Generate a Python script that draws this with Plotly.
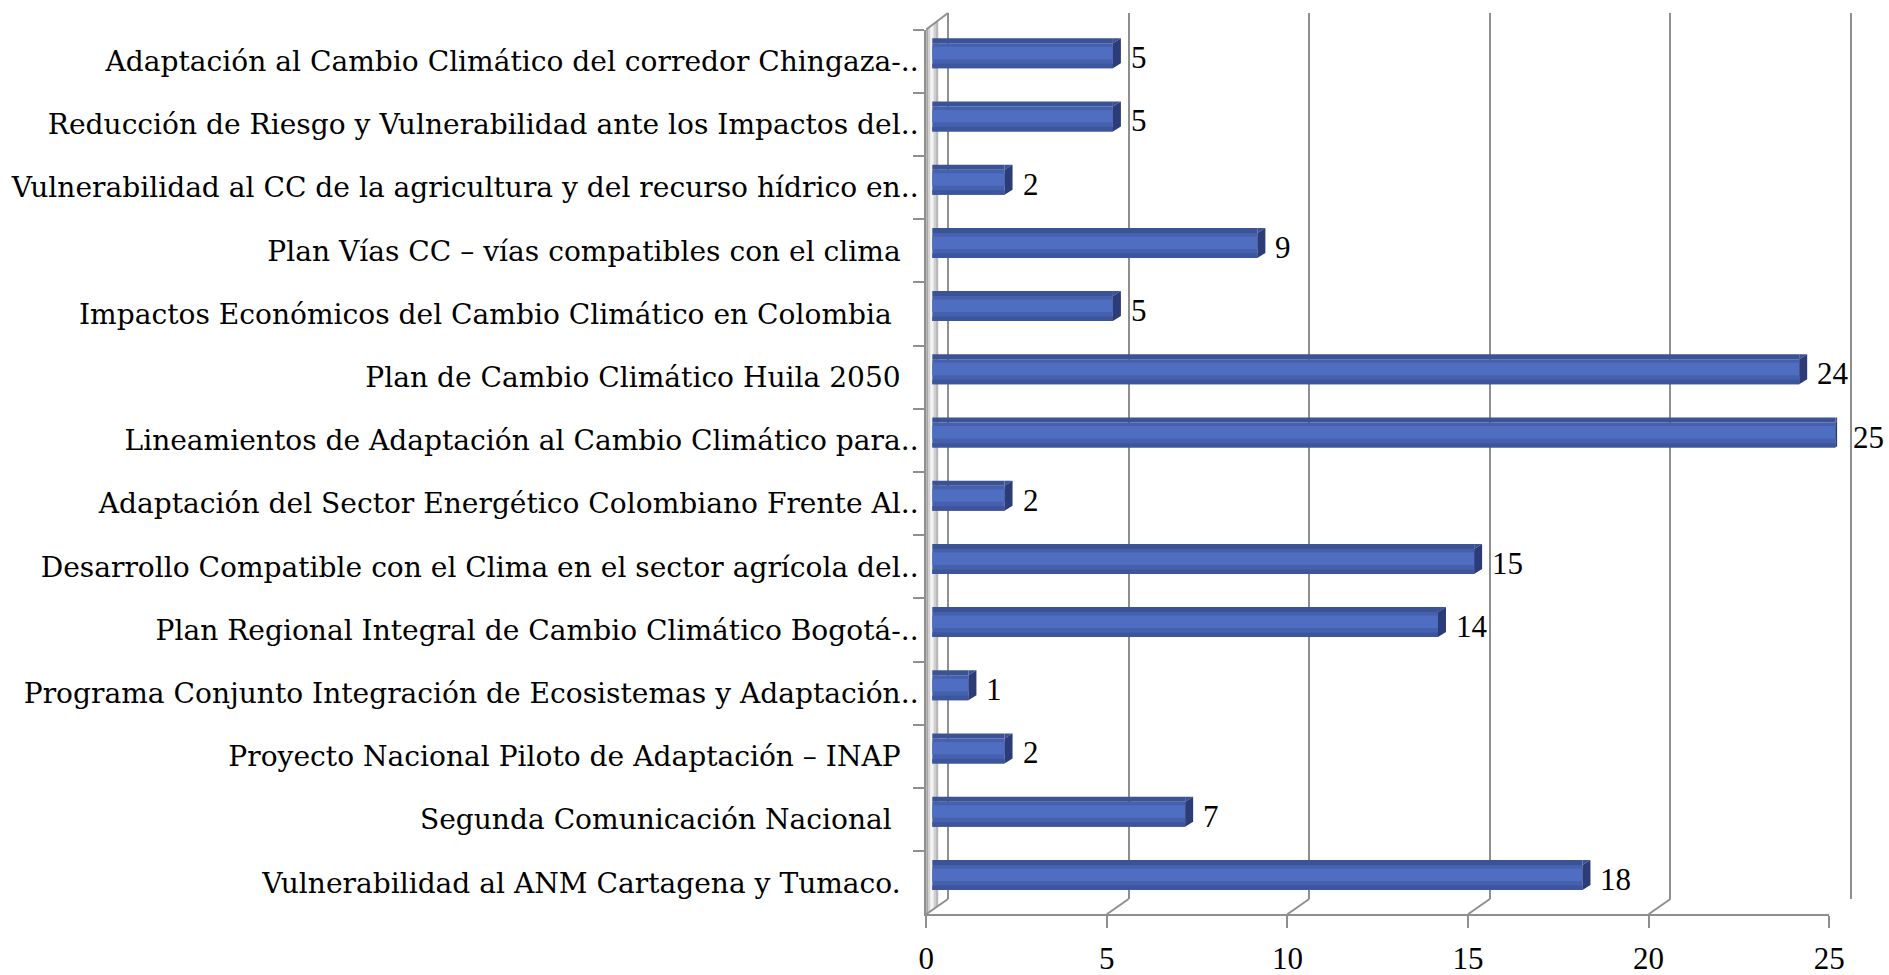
import plotly.graph_objects as go

# ---------------- data ----------------
categories = [
    "Adaptación al Cambio Climático del corredor Chingaza-..",
    "Reducción de Riesgo y Vulnerabilidad ante los Impactos del..",
    "Vulnerabilidad al CC de la agricultura y del recurso hídrico en..",
    "Plan Vías CC – vías compatibles con el clima\u00a0\u00a0",
    "Impactos Económicos del Cambio Climático en Colombia\u00a0\u00a0\u00a0",
    "Plan de Cambio Climático Huila 2050\u00a0\u00a0",
    "Lineamientos de Adaptación al Cambio Climático para..",
    "Adaptación del Sector Energético Colombiano Frente Al..",
    "Desarrollo Compatible con el Clima en el sector agrícola del..",
    "Plan Regional Integral de Cambio Climático Bogotá-..",
    "Programa Conjunto Integración de Ecosistemas y Adaptación..",
    "Proyecto Nacional Piloto de Adaptación – INAP\u00a0\u00a0",
    "Segunda Comunicación Nacional\u00a0\u00a0\u00a0",
    "Vulnerabilidad al ANM Cartagena y Tumaco.\u00a0\u00a0",
]
values = [5, 5, 2, 9, 5, 24, 25, 2, 15, 14, 1, 2, 7, 18]
x_ticks = [0, 5, 10, 15, 20, 25]

# ---------------- layout constants (pixels) ----------------
W, H = 1889, 975
XMAX = 25
EPS = 0.05                     # small range padding so edge grid lines draw
S = 36.12                      # px per unit
FRONT_X0, BACK_X0, BAR_X0 = 926.2, 948.0, 932.3
FRONT_TOP, FRONT_BOT = 29.5, 914.3
BACK_TOP, BACK_BOT = 13.0, 899.0
BAR_TOP, BAR_BOT = 24.2, 909.0
DEPTH_X, DEPTH_Y = 8, 5        # bar depth offsets
HALF = 12.5                    # half height of bar front face

LABEL_FONT = "DejaVu Serif, Palatino Linotype, serif"
NUM_FONT = "Liberation Serif, Palatino Linotype, serif"
GRAY = "#8f8f8f"


def fx(p):
    return p / W


def fy(p):
    return 1 - p / H


def xdom(x0):
    return [fx(x0 - EPS * S), fx(x0 + (XMAX + EPS) * S)]


n = len(categories)
yr = [n - 0.5, -0.5]
xr = [-EPS, XMAX + EPS]
bar_w = 2 * HALF / ((BAR_BOT - BAR_TOP) / n)

fig = go.Figure()

# back plane (grid) subplot
fig.add_trace(go.Scatter(x=[0, XMAX], y=[0, 0], mode="markers",
                         marker=dict(opacity=0), hoverinfo="skip",
                         showlegend=False, xaxis="x", yaxis="y"))
# front axis subplot (category labels + value axis)
fig.add_trace(go.Scatter(x=values, y=categories, mode="markers",
                         marker=dict(opacity=0), hoverinfo="skip",
                         showlegend=False, xaxis="x2", yaxis="y2"))
# bars: front face with a lighter middle band and a darker lower band
fig.add_trace(go.Bar(x=values, y=categories, orientation="h", width=bar_w,
                     marker=dict(color="#4560ad", line=dict(width=0)),
                     hoverinfo="x+y", showlegend=False, xaxis="x3", yaxis="y3"))
fig.add_trace(go.Bar(x=values, y=categories, orientation="h",
                     width=bar_w * 0.5, offset=-bar_w / 2 + bar_w * 0.14,
                     marker=dict(color="#4f6dc1", line=dict(width=0)),
                     hoverinfo="skip", showlegend=False, xaxis="x3", yaxis="y3"))
fig.add_trace(go.Bar(x=values, y=categories, orientation="h",
                     width=bar_w * 0.18, offset=bar_w / 2 - bar_w * 0.18,
                     marker=dict(color="#3d559c", line=dict(width=0)),
                     hoverinfo="skip", showlegend=False, xaxis="x3", yaxis="y3"))

shapes = []
# left wall (shaded strips)
wall_slope = (FRONT_TOP - BACK_TOP) / (BACK_X0 - FRONT_X0)
strips = [(FRONT_X0, 928.5, "#a6a6a6"), (928.5, 930.5, "#d0d0d0"),
          (930.5, 933.5, "#f4f4f4"), (933.5, 936.0, "#cfcfcf"),
          (936.0, 938.5, "#b8b8b8"), (938.5, BACK_X0, "#ffffff")]
for a, b, c in strips:
    ta = FRONT_TOP - (a - FRONT_X0) * wall_slope
    tb = FRONT_TOP - (b - FRONT_X0) * wall_slope
    ba = FRONT_BOT - (a - FRONT_X0) * wall_slope
    bb = FRONT_BOT - (b - FRONT_X0) * wall_slope
    path = (f"M{fx(a)},{fy(ta)} L{fx(b)},{fy(tb)} "
            f"L{fx(b)},{fy(bb)} L{fx(a)},{fy(ba)} Z")
    shapes.append(dict(type="path", xref="paper", yref="paper", path=path,
                       fillcolor=c, line=dict(width=0), layer="below"))
# wall top edge
shapes.append(dict(type="line", xref="paper", yref="paper",
                   x0=fx(FRONT_X0), y0=fy(FRONT_TOP), x1=fx(BACK_X0), y1=fy(BACK_TOP),
                   line=dict(color=GRAY, width=2), layer="below"))
# floor connectors from front ticks to back grid lines
for k in x_ticks:
    shapes.append(dict(type="line", xref="x2", xsizemode="pixel", xanchor=k,
                       x0=0, x1=BACK_X0 - FRONT_X0,
                       yref="paper", ysizemode="pixel", yanchor=fy(FRONT_BOT),
                       y0=0, y1=FRONT_BOT - BACK_BOT,
                       line=dict(color=GRAY, width=2), layer="below"))
# bar top and side faces
for i, v in enumerate(values):
    shapes.append(dict(type="rect", xref="x3", x0=0, x1=v,
                       yref="y3", ysizemode="pixel", yanchor=i,
                       y0=HALF, y1=HALF + DEPTH_Y,
                       fillcolor="#3b5294", line=dict(width=0), layer="above"))
    shapes.append(dict(type="path", xref="x3", xsizemode="pixel", xanchor=v,
                       yref="y3", ysizemode="pixel", yanchor=i,
                       path=f"M0,{HALF} L{DEPTH_X},{HALF + DEPTH_Y} L0,{HALF + DEPTH_Y} Z",
                       fillcolor="#3b5294", line=dict(width=0), layer="above"))
    shapes.append(dict(type="path", xref="x3", xsizemode="pixel", xanchor=v,
                       yref="y3", ysizemode="pixel", yanchor=i,
                       path=(f"M0,{HALF} L{DEPTH_X},{HALF + DEPTH_Y} "
                             f"L{DEPTH_X},{-HALF + DEPTH_Y} L0,{-HALF} Z"),
                       fillcolor="#2b3c78", line=dict(width=0), layer="above"))

annotations = []
for i, v in enumerate(values):
    annotations.append(dict(x=v, y=i, xref="x3", yref="y3", text=str(v),
                            showarrow=False, xanchor="left", yanchor="middle",
                            xshift=DEPTH_X + 8, yshift=-2,
                            font=dict(family=NUM_FONT, size=31, color="#000000")))

fig.update_layout(
    width=W, height=H,
    margin=dict(l=0, r=0, t=0, b=0, autoexpand=False),
    paper_bgcolor="#ffffff", plot_bgcolor="rgba(0,0,0,0)",
    barmode="overlay", showlegend=False,
    font=dict(family=NUM_FONT, size=30, color="#000000"),
    shapes=shapes, annotations=annotations,
    xaxis=dict(domain=xdom(BACK_X0), range=xr, automargin=False,
               tickvals=x_ticks, showgrid=True, gridcolor=GRAY, gridwidth=2,
               showticklabels=False, zeroline=False, showline=False, ticks="",
               anchor="y", fixedrange=True),
    yaxis=dict(domain=[fy(BACK_BOT), fy(BACK_TOP)], range=[0, 1], visible=False,
               automargin=False, showgrid=False, anchor="x", fixedrange=True),
    xaxis2=dict(domain=[fx(FRONT_X0), fx(FRONT_X0 + XMAX * S)], range=[0, XMAX],
                automargin=False, ticklabelstandoff=3,
                tickvals=x_ticks, ticks="outside", ticklen=12, tickwidth=2,
                tickcolor=GRAY, showline=True, linecolor=GRAY, linewidth=2,
                showgrid=False, zeroline=False, anchor="y2",
                tickfont=dict(family=NUM_FONT, size=31, color="#000000"),
                fixedrange=True),
    yaxis2=dict(domain=[fy(FRONT_BOT), fy(FRONT_TOP)], type="category", range=yr,
                automargin=False,
                tickson="boundaries", ticks="outside", ticklen=11, tickwidth=2,
                tickcolor=GRAY, showline=True, linecolor=GRAY, linewidth=2,
                showgrid=False, zeroline=False, anchor="x2",
                tickfont=dict(family=LABEL_FONT, size=28.1, color="#000000"),
                fixedrange=True),
    xaxis3=dict(domain=xdom(BAR_X0), range=xr, automargin=False,
                visible=False, anchor="y3", fixedrange=True),
    yaxis3=dict(domain=[fy(BAR_BOT), fy(BAR_TOP)], type="category", range=yr,
                automargin=False, visible=False, anchor="x3", fixedrange=True),
)

fig.write_html(
    "out.html",
    config={"displayModeBar": False},
    post_script="document.body.style.margin='0';document.body.style.overflow='hidden';",
)
